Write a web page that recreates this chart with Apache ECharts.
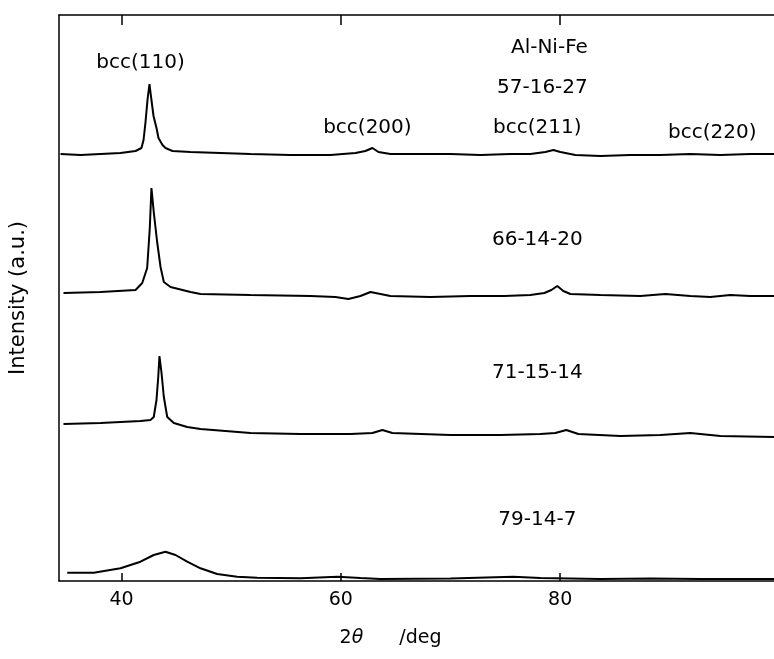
<!DOCTYPE html>
<html>
<head>
<meta charset="utf-8">
<script src="https://cdn.jsdelivr.net/npm/echarts@6/dist/echarts.min.js"></script>
<style>html,body{margin:0;padding:0;background:#fff}#c{width:774px;height:659px}</style>
</head>
<body>
<div id="c"></div>
<script>
// 2θ (deg) and stacked intensity (a.u.)
const trace57 = [[34.44,427],[36.26,426],[38.09,427],[39.91,428],[41.28,430],[41.82,433],[42.01,441],[42.19,459],[42.37,481],[42.55,497],[42.73,481],[42.92,465],[43.19,453],[43.37,443],[43.74,436],[44.01,433],[44.65,430],[46.29,429],[49.02,428],[51.76,427],[55.41,426],[59.05,426],[61.33,428],[62.24,430],[62.88,433],[63.43,429],[64.52,427],[67.26,427],[69.99,427],[72.73,426],[75.46,427],[77.28,427],[78.65,429],[79.38,431],[80.02,429],[81.39,426],[83.67,425],[86.40,426],[89.14,426],[91.87,427],[94.61,426],[97.34,427],[99.53,427]];
const trace66 = [[34.71,288],[38.09,289],[41.28,291],[41.89,298],[42.34,313],[42.58,353],[42.73,393],[42.94,369],[43.25,339],[43.56,314],[43.86,299],[44.47,294],[46.29,289],[47.20,287],[51.76,286],[57.23,285],[59.51,284],[60.69,282],[61.79,285],[62.70,289],[63.61,287],[64.52,285],[68.17,284],[71.81,285],[74.91,285],[77.28,286],[78.56,288],[79.20,291],[79.74,295],[80.29,290],[80.93,287],[83.67,286],[87.31,285],[89.59,287],[91.87,285],[93.69,284],[95.51,286],[97.34,285],[99.53,285]];
const trace71 = [[34.71,157],[38.09,158],[41.73,160],[42.64,161],[42.94,164],[43.19,181],[43.35,204],[43.46,225],[43.65,208],[43.86,184],[44.17,164],[44.77,158],[45.99,154],[47.20,152],[51.76,148],[56.32,147],[60.88,147],[62.88,148],[63.79,151],[64.70,148],[69.99,146],[74.55,146],[78.19,147],[79.56,148],[80.56,151],[81.66,147],[85.49,145],[89.14,146],[91.87,148],[94.61,145],[99.53,144]];
const trace79 = [[35.05,8.3],[37.47,8.3],[39.91,12.7],[41.73,19.3],[42.94,26],[44.01,29.3],[44.92,26],[45.99,19.3],[47.20,12.7],[48.72,7],[50.55,4.3],[52.37,3.3],[56.32,2.7],[59.69,4.3],[61.79,3],[63.61,2],[69.99,2.5],[75.73,4.3],[78.19,3],[83.67,2],[88.22,2.5],[92.78,2],[99.53,2]];
const xTicks = [40, 60, 80];
// annotations: [2θ, intensity, text]
const annotations = [
  [41.73, 518, 'bcc(110)'],
  [79.02, 533, 'Al-Ni-Fe'],
  [78.38, 493, '57-16-27'],
  [62.42, 453, 'bcc(200)'],
  [77.92, 453, 'bcc(211)'],
  [93.87, 448, 'bcc(220)'],
  [77.92, 341, '66-14-20'],
  [77.92, 208, '71-15-14'],
  [77.92, 61, '79-14-7']
];

const FONT = 'DejaVu Sans';
const chart = echarts.init(document.getElementById('c'), null, {renderer: 'canvas'});
const lineSeries = (data) => ({
  type: 'line', data, showSymbol: false, symbol: 'none', smooth: false,
  lineStyle: {color: '#000', width: 2}, silent: true, animation: false, z: 3
});
const tickCfg = {show: true, inside: true, length: 8, customValues: xTicks, lineStyle: {color: '#000', width: 1.5}};
chart.setOption({
  animation: false,
  backgroundColor: '#fff',
  grid: {left: 58, right: 0, top: 15, bottom: 78},
  xAxis: [{
    type: 'value', min: 34.3, max: 99.5, position: 'bottom',
    axisLine: {show: true, onZero: false, lineStyle: {color: '#000', width: 1.5}},
    axisTick: tickCfg,
    axisLabel: {show: true, customValues: xTicks, color: '#000', fontFamily: FONT, fontSize: 19, margin: 10},
    splitLine: {show: false},
    name: '{a|2}{b|θ}{c|/deg}', nameLocation: 'middle', nameGap: 48,
    nameTextStyle: {padding: [0, 52, 0, 0], rich: {
      a: {fontFamily: FONT, fontSize: 19, color: '#000'},
      b: {fontFamily: FONT, fontSize: 19, fontStyle: 'italic', color: '#000'},
      c: {fontFamily: FONT, fontSize: 19, color: '#000', padding: [0, 0, 0, 36]}
    }}
  }, {
    type: 'value', min: 34.3, max: 99.5, position: 'top',
    axisLine: {show: true, onZero: false, lineStyle: {color: '#000', width: 1.5}},
    axisTick: Object.assign({}, tickCfg, {length: 10}),
    axisLabel: {show: false}, splitLine: {show: false}
  }],
  yAxis: {
    type: 'value', min: 0, max: 566,
    axisLine: {show: true, onZero: false, lineStyle: {color: '#000', width: 1.5}},
    axisTick: {show: false}, axisLabel: {show: false}, splitLine: {show: false},
    name: 'Intensity (a.u.)', nameLocation: 'middle', nameGap: 30,
    nameTextStyle: {fontFamily: FONT, fontSize: 21, color: '#000'}
  },
  series: [
    lineSeries(trace57), lineSeries(trace66), lineSeries(trace71), lineSeries(trace79),
    {
      type: 'scatter', data: annotations, symbolSize: 0, silent: true, z: 4,
      itemStyle: {opacity: 1, color: '#000'},
      label: {show: true, position: 'inside', formatter: p => p.data[2],
        color: '#000', opacity: 1, fontFamily: FONT, fontSize: 20}
    }
  ]
});
</script>
</body>
</html>
